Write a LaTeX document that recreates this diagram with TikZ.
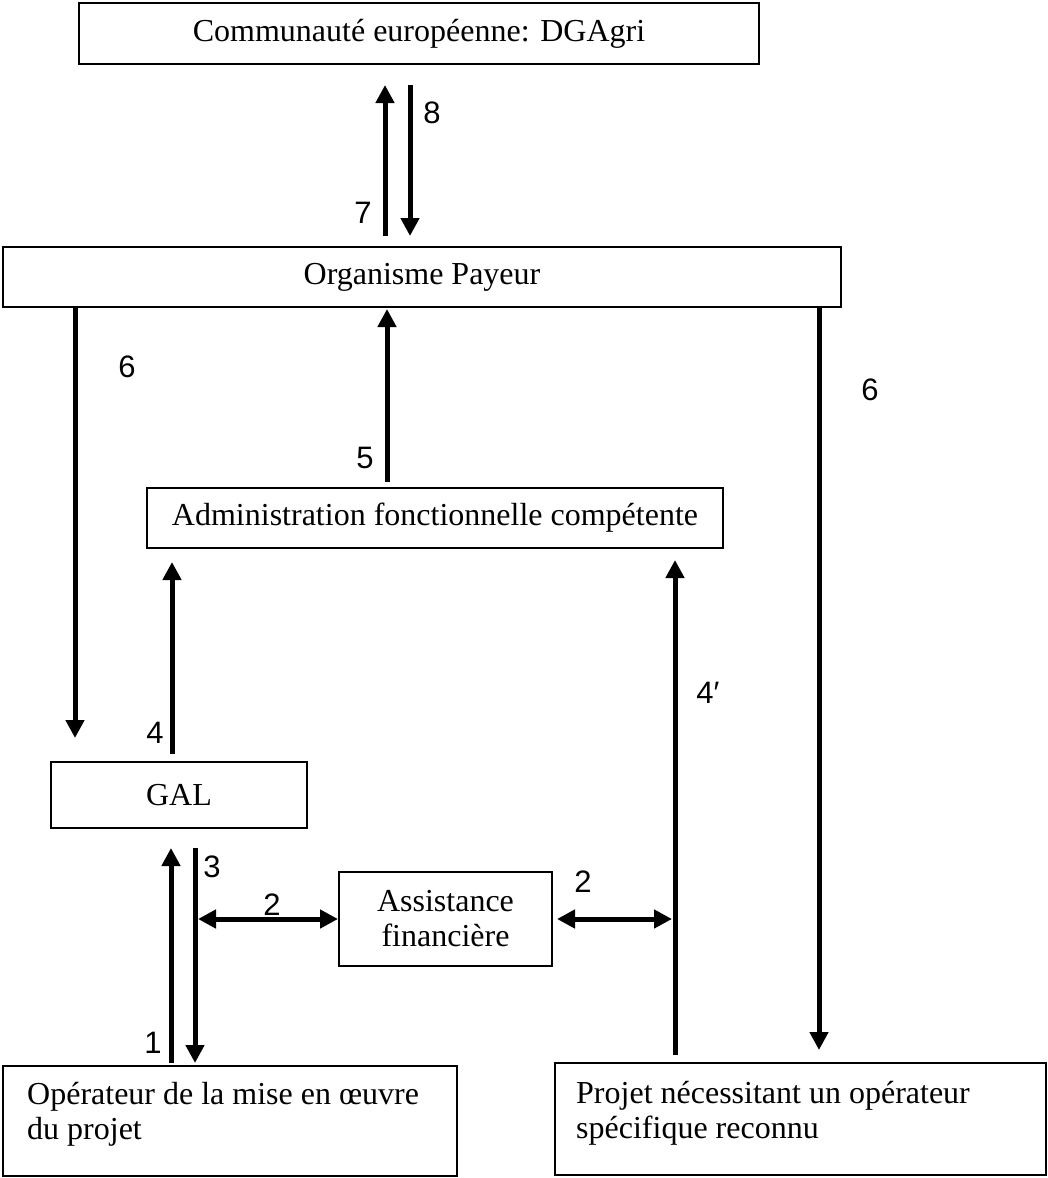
\documentclass[tikz,border=0pt]{standalone}
\usepackage{fontspec}
\setmainfont{Liberation Serif}
\newfontfamily\lblfont{Liberation Sans}
\usetikzlibrary{arrows.meta}
\begin{document}
\begin{tikzpicture}[x=1pt,y=-1pt,
  box/.style={draw,line width=2pt,rectangle,inner sep=0pt,align=center,
    font=\fontsize{32}{35}\selectfont},
  txt/.style={inner sep=0pt,align=left,font=\fontsize{32}{35}\selectfont},
  flow/.style={line width=5pt,-{Triangle[length=18pt,width=18pt]}},
  both/.style={line width=5pt,{Triangle[length=18pt,width=18pt]}-{Triangle[length=18pt,width=18pt]}},
  num/.style={inner sep=0pt,font=\lblfont\fontsize{31}{31}\selectfont}
]
\useasboundingbox (0,0) rectangle (1047,1178);

% boxes
\node[box,minimum width=680pt,minimum height=61pt] (eu)  at (419,33.5) {Communauté européenne: DGAgri};
\node[box,minimum width=838pt,minimum height=60pt] (op)  at (422,277) {Organisme Payeur};
\node[box,minimum width=576pt,minimum height=60pt] (adm) at (435,518) {Administration fonctionnelle compétente};
\node[box,minimum width=256pt,minimum height=66pt] (gal) at (179,795) {GAL};
\node[box,minimum width=213pt,minimum height=94pt] (asf) at (445.5,919) {Assistance\\financière};
\node[box,minimum width=454pt,minimum height=110pt] (opr) at (230,1121) {};
\node[box,minimum width=491pt,minimum height=112pt] (prj) at (800.5,1119) {};
% the base anchor of a two-line text is its last baseline
\node[txt,anchor=base west] (oprtxt) at (27,1139) {Opérateur de la mise en œuvre\\du projet};
\node[txt,anchor=base west] (prjtxt) at (576,1138) {Projet nécessitant un opérateur\\spécifique reconnu};

% arrow end points
\coordinate (a7s) at (385,236);  \coordinate (a7e) at (385,85);
\coordinate (a8s) at (410,85);   \coordinate (a8e) at (410,236);
\coordinate (a6ls) at (75,307);  \coordinate (a6le) at (75,738);
\coordinate (a6rs) at (819,307); \coordinate (a6re) at (819,1050);
\coordinate (a5s) at (387,482);  \coordinate (a5e) at (387,309);
\coordinate (a4s) at (172,754);  \coordinate (a4e) at (172,562);
\coordinate (a4ps) at (675,1055); \coordinate (a4pe) at (675,560);
\coordinate (a1s) at (171,1063); \coordinate (a1e) at (171,848);
\coordinate (a3s) at (195,848);  \coordinate (a3e) at (195,1063);
\coordinate (d2ls) at (198,919);
\coordinate (d2rs) at (557,919); \coordinate (d2re) at (672,919);

% arrows
\draw[flow] (a7s) -- (a7e);
\draw[flow] (a8s) -- (a8e);
\draw[flow] (a6ls) -- (a6le);
\draw[flow] (a6rs) -- (a6re);
\draw[flow] (a5s) -- (a5e);
\draw[flow] (a4s) -- (a4e);
\draw[flow] (a4ps) -- (a4pe);
\draw[flow] (a1s) -- (a1e);
\draw[flow] (a3s) -- (a3e);
\draw[both] (d2ls) -- (asf.west);
\draw[both] (d2rs) -- (d2re);

% step numbers
\node[num] (l8)  at (432,113) {8};
\node[num] (l7)  at (363,213) {7};
\node[num] (l6l) at (127,367) {6};
\node[num] (l6r) at (870,390) {6};
\node[num] (l5)  at (365,458) {5};
\node[num] (l4)  at (155,733) {4};
\node[num] (l4p) at (708,693) {4′};
\node[num] (l3)  at (212,867) {3};
\node[num] (l2l) at (272,905) {2};
\node[num] (l2r) at (583,882) {2};
\node[num] (l1)  at (153,1043) {1};
\end{tikzpicture}
\end{document}
